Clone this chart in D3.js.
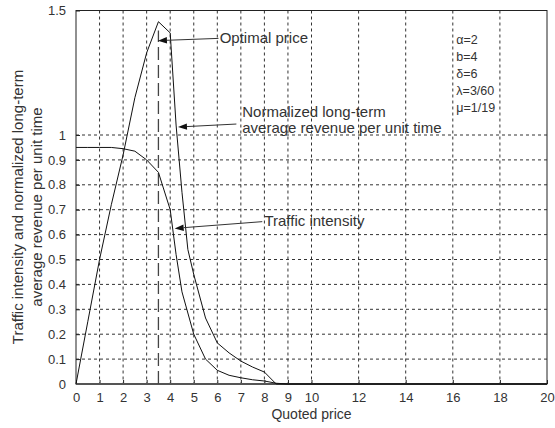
<!DOCTYPE html>
<html>
<head>
<meta charset="utf-8">
<script src="https://cdn.jsdelivr.net/npm/d3@7"></script>
<style>
  body { margin: 0; background: #fff; }
  svg text { font-family: "Liberation Sans", Arial, sans-serif; fill: #333; }
</style>
</head>
<body>
<div id="chart"></div>
<script>
// Data
var intensityPrice = [0, 0.5, 1, 1.5, 2, 2.5, 3, 3.5, 4, 4.25, 4.5, 5, 5.5, 6, 6.5, 7, 7.5, 8, 8.5, 9, 20];
var intensity      = [0.95, 0.95, 0.95, 0.95, 0.945, 0.935, 0.90, 0.85, 0.70, 0.52, 0.37, 0.20, 0.10, 0.055, 0.035, 0.025, 0.017, 0.012, 0.003, 0, 0];

var revenuePrice = [0, 0.5, 1, 1.5, 2, 2.5, 3, 3.5, 4, 4.25, 4.5, 4.75, 5, 5.5, 6, 6.5, 7, 7.5, 8, 8.5, 9, 20];
var revenue      = [0, 0.25, 0.50, 0.72, 0.92, 1.15, 1.33, 1.455, 1.41, 1.04, 0.77, 0.54, 0.44, 0.265, 0.165, 0.125, 0.092, 0.068, 0.048, 0, 0, 0];

var optimalPrice = 3.5;
var optimalRevenue = 1.42;

var xTicks = [0, 1, 2, 3, 4, 5, 6, 7, 8, 9, 10, 12, 14, 16, 18, 20];
var yTicks = [0, 0.1, 0.2, 0.3, 0.4, 0.5, 0.6, 0.7, 0.8, 0.9, 1, 1.5];
var yGrid = [0.1, 0.2, 0.3, 0.4, 0.5, 0.6, 0.7, 0.8, 0.9, 1];
var params = ["α=2", "b=4", "δ=6", "λ=3/60", "μ=1/19"];

var svgWidth = 555;
var svgHeight = 428;

var margin = { top: 10.5, right: 8, bottom: 44, left: 76 };
var width = svgWidth - margin.left - margin.right;
var height = svgHeight - margin.top - margin.bottom;

var svg = d3.select("#chart")
  .append("svg")
  .attr("width", svgWidth)
  .attr("height", svgHeight);

var chartGroup = svg.append("g")
  .attr("transform", `translate(${margin.left}, ${margin.top})`);

var x = d3.scaleLinear().domain([0, 20]).range([0, width]);
var y = d3.scaleLinear().domain([0, 1.5]).range([height, 0]);

// grid
chartGroup.append("g")
  .selectAll("line")
  .data(xTicks.filter(d => d > 0 && d < 20))
  .enter()
  .append("line")
  .attr("x1", d => x(d)).attr("x2", d => x(d))
  .attr("y1", 0).attr("y2", height)
  .attr("stroke", "#333")
  .attr("stroke-dasharray", "3,3");

chartGroup.append("g")
  .selectAll("line")
  .data(yGrid)
  .enter()
  .append("line")
  .attr("x1", 0).attr("x2", width)
  .attr("y1", d => y(d)).attr("y2", d => y(d))
  .attr("stroke", "#333")
  .attr("stroke-dasharray", "3,3");

// axes
var bottomAxis = d3.axisBottom(x).tickValues(xTicks).tickSizeInner(-4).tickSizeOuter(0).tickPadding(9);
var leftAxis = d3.axisLeft(y).tickValues(yTicks).tickSizeInner(-4).tickSizeOuter(0).tickPadding(10)
  .tickFormat(d3.format("~g"));

var xAxisG = chartGroup.append("g")
  .attr("transform", `translate(0, ${height})`)
  .call(bottomAxis);
var yAxisG = chartGroup.append("g").call(leftAxis);

[xAxisG, yAxisG].forEach(function(g) {
  g.select(".domain").remove();
  g.selectAll("line").attr("stroke", "#222");
  g.selectAll("text").attr("font-size", 13).attr("fill", "#333")
    .attr("font-family", "Liberation Sans, Arial, sans-serif");
});

// frame
chartGroup.append("rect")
  .attr("width", width).attr("height", height)
  .attr("fill", "none").attr("stroke", "#222");
chartGroup.append("line")
  .attr("x1", 0).attr("x2", width)
  .attr("y1", height).attr("y2", height)
  .attr("stroke", "#555").attr("stroke-width", 2);

// optimal price marker
chartGroup.append("line")
  .attr("x1", x(optimalPrice)).attr("x2", x(optimalPrice))
  .attr("y1", y(0)).attr("y2", y(optimalRevenue))
  .attr("stroke", "#444").attr("stroke-width", 1.3)
  .attr("stroke-dasharray", "13,5");

// curves
var line = d3.line().x(d => x(d[0])).y(d => y(d[1]));

chartGroup.append("path")
  .datum(d3.zip(intensityPrice, intensity))
  .attr("d", line)
  .attr("fill", "none").attr("stroke", "#111").attr("stroke-width", 1);

chartGroup.append("path")
  .datum(d3.zip(revenuePrice, revenue))
  .attr("d", line)
  .attr("fill", "none").attr("stroke", "#111").attr("stroke-width", 1);

// annotations (in data units)
var notes = [
  { lines: ["Optimal price"], tx: 6.1, ty: 1.369, from: [6.05, 1.388], to: [3.48, 1.379] },
  { lines: ["Normalized long-term", "average revenue per unit time"], tx: 7.06, ty: 1.072, from: [6.81, 1.044], to: [4.33, 1.032] },
  { lines: ["Traffic intensity"], tx: 8.0, ty: 0.635, from: [7.91, 0.652], to: [4.19, 0.625] }
];

notes.forEach(function(n) {
  var x1 = x(n.from[0]), y1 = y(n.from[1]);
  var x2 = x(n.to[0]), y2 = y(n.to[1]);
  var ang = Math.atan2(y2 - y1, x2 - x1);
  var hl = 9, hw = 3.2;
  var bx = x2 - hl * Math.cos(ang), by = y2 - hl * Math.sin(ang);
  chartGroup.append("line")
    .attr("x1", x1).attr("y1", y1).attr("x2", bx).attr("y2", by)
    .attr("stroke", "#333");
  chartGroup.append("path")
    .attr("d", `M${x2},${y2}L${bx - hw * Math.sin(ang)},${by + hw * Math.cos(ang)}L${bx + hw * Math.sin(ang)},${by - hw * Math.cos(ang)}Z`)
    .attr("fill", "#111");
  var t = chartGroup.append("text")
    .attr("x", x(n.tx)).attr("y", y(n.ty))
    .attr("font-size", 15);
  n.lines.forEach(function(s, i) {
    t.append("tspan").attr("x", x(n.tx)).attr("dy", i ? 16 : 0).text(s);
  });
});

// parameter list
chartGroup.append("g")
  .selectAll("text")
  .data(params)
  .enter()
  .append("text")
  .attr("x", x(16.15))
  .attr("y", (d, i) => y(1.366) + i * 17)
  .attr("font-size", 12.5)
  .text(d => d);

// axis labels
svg.append("text")
  .attr("transform", `translate(${margin.left + width / 2}, 419)`)
  .attr("text-anchor", "middle")
  .attr("font-size", 14)
  .text("Quoted price");

var yTitle = svg.append("text")
  .attr("transform", "translate(23, 207) rotate(-90)")
  .attr("text-anchor", "middle")
  .attr("font-size", 15);
yTitle.append("tspan").attr("x", 0).attr("dy", 0).text("Traffic intensity and normalized long-term");
yTitle.append("tspan").attr("x", 0).attr("dy", 19).text("average revenue per unit time");
</script>
</body>
</html>
